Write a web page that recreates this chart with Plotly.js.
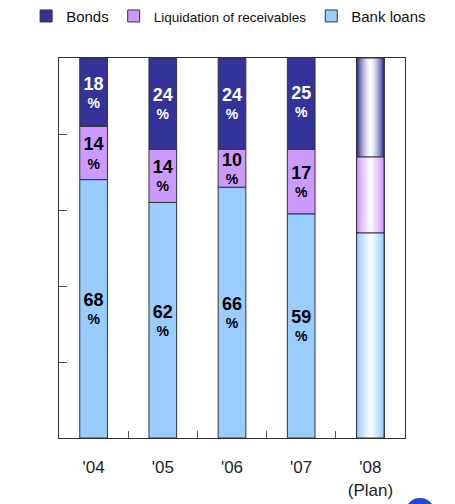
<!DOCTYPE html>
<html>
<head>
<meta charset="utf-8">
<script src="https://cdn.plot.ly/plotly-3.0.1.min.js"></script>
<style>html,body{margin:0;padding:0;background:#fff;}#chart{width:455px;height:504px;}</style>
</head>
<body>
<div id="chart"></div>
<script>
// ---- data ----
const years = ["'04", "'05", "'06", "'07", "'08<br>(Plan)"];
const bankLoans = [68, 62, 66, 59, 54];
const liquidation = [14, 14, 10, 17, 20];
const bonds = [18, 24, 24, 25, 26];
const showLabel = [true, true, true, true, false];
const seriesNames = ["Bank loans", "Liquidation of receivables", "Bonds"];

// ---- styles ----
const colors = ["#99ccff", "#cc99ff", "#333399"];
const textColors = ["#000000", "#000000", "#ffffff"];
const barWidth = 0.4;
const outline = "#333333";
const FONT = "Liberation Sans, Arial, sans-serif";

const series = [bankLoans, liquidation, bonds];
const bases = [
  bankLoans.map(() => 0),
  bankLoans.slice(),
  bankLoans.map((v, i) => v + liquidation[i])
];

function label(v, i) {
  if (!showLabel[i]) return "";
  return '<b><span style="font-size:18px">' + v + '</span><br>%</b>';
}

const traces = [];
series.forEach((vals, s) => {
  traces.push({
    type: "bar",
    name: s === 1 ? '<span style="font-family:Liberation Sans Narrow, Arial Narrow, sans-serif;font-size:13.5px">' + seriesNames[s] + '</span>' : seriesNames[s],
    x: years,
    y: vals,
    base: bases[s],
    width: barWidth,
    marker: {color: colors[s], line: {color: outline, width: 1}},
    text: vals.map(label),
    textposition: "inside",
    insidetextanchor: "middle",
    textangle: 0,
    constraintext: "none",
    textfont: {family: FONT, size: 14, color: textColors[s]},
    hoverinfo: "name+y"
  });
});

// gradient layers for the planned year (last category)
function hexToRgb(h) {
  return [parseInt(h.slice(1, 3), 16), parseInt(h.slice(3, 5), 16), parseInt(h.slice(5, 7), 16)];
}
const last = years.length - 1;
const N = 12;
series.forEach((vals, s) => {
  const c = hexToRgb(colors[s]);
  for (let k = 1; k < N; k++) {
    const d = 1 - k / N;
    const t = Math.pow(d, s === 2 ? 1.6 : 1.1);
    const col = c.map(ch => Math.round(255 + (ch - 255) * t));
    traces.push({
      type: "bar", x: [years[last]], y: [vals[last]], base: [bases[s][last]],
      width: barWidth * d,
      marker: {color: "rgb(" + col.join(",") + ")", line: {width: 0}},
      showlegend: false, hoverinfo: "skip"
    });
  }
  traces.push({
    type: "bar", x: [years[last]], y: [vals[last]], base: [bases[s][last]],
    width: barWidth,
    marker: {color: "rgba(0,0,0,0)", line: {color: outline, width: 1}},
    showlegend: false, hoverinfo: "skip"
  });
});

const layout = {
  width: 455, height: 504,
  margin: {l: 59, r: 50, t: 58, b: 66, autoexpand: false},
  paper_bgcolor: "#ffffff", plot_bgcolor: "#ffffff",
  barmode: "overlay",
  font: {family: FONT, color: "#222"},
  showlegend: true,
  legend: {
    orientation: "h", traceorder: "reversed",
    x: -0.095, xanchor: "left", y: 1.11, yanchor: "middle",
    font: {family: FONT, size: 15, color: "#111"},
    itemwidth: 30, bgcolor: "rgba(0,0,0,0)"
  },
  xaxis: {
    type: "category", tickson: "boundaries", ticks: "inside", ticklen: 7,
    tickcolor: "#555", showline: true, mirror: true, linecolor: "#333", linewidth: 1,
    showgrid: false, tickfont: {family: FONT, size: 17, color: "#222"},
    ticklabelstandoff: 14, fixedrange: true
  },
  yaxis: {
    range: [0, 100], tickvals: [20, 40, 60, 80], ticks: "inside", ticklen: 8,
    tickcolor: "#555", showticklabels: false, showgrid: false, zeroline: false,
    showline: true, mirror: true, linecolor: "#333", linewidth: 1, fixedrange: true
  },
  shapes: [{
    type: "circle", xref: "paper", yref: "paper",
    x0: 1.0, x1: 1.087, y0: -0.237, y1: -0.158,
    fillcolor: "#2348cf", line: {width: 0}
  }]
};

Plotly.newPlot("chart", traces, layout, {displayModeBar: false, staticPlot: true});
</script>
</body>
</html>
